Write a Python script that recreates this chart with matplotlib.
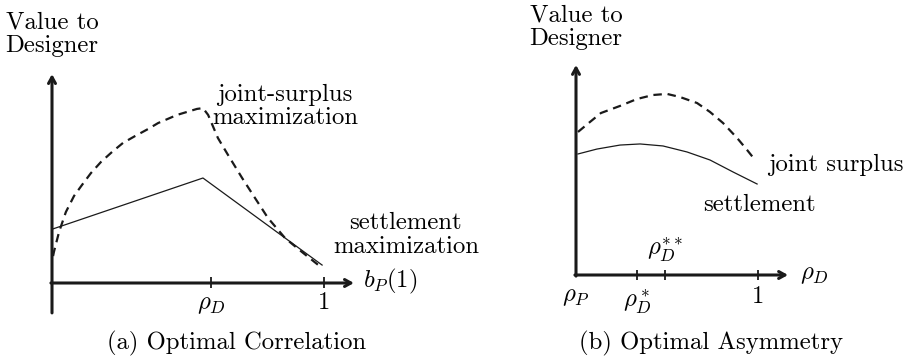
import matplotlib
matplotlib.use("Agg")
import matplotlib.pyplot as plt

plt.rcParams['font.family'] = ['cmr10', 'DejaVu Serif']
plt.rcParams['mathtext.fontset'] = 'cm'
plt.rcParams['axes.formatter.use_mathtext'] = True

# ---- Panel (a): Optimal Correlation ----
a_joint_x = [0.004, 0.007, 0.026, 0.051, 0.081, 0.110, 0.143, 0.180, 0.221, 0.261,
             0.305, 0.353, 0.390, 0.460, 0.533, 0.555, 0.574, 0.610, 0.647, 0.699,
             0.746, 0.794, 0.857, 0.919, 0.993]
a_joint_y = [0.099, 0.114, 0.188, 0.261, 0.320, 0.360, 0.404, 0.445, 0.482, 0.515,
             0.540, 0.566, 0.588, 0.618, 0.640, 0.643, 0.618, 0.533, 0.471, 0.386,
             0.313, 0.239, 0.165, 0.114, 0.055]
a_settle_x = [0.004, 0.555, 0.993]
a_settle_y = [0.199, 0.386, 0.066]
a_ticks = [0.585, 1.0]
a_tick_labels = [r'$\rho_D$', '1']

# ---- Panel (b): Optimal Asymmetry ----
b_joint_x = [0.011, 0.077, 0.137, 0.242, 0.335, 0.423, 0.500, 0.571, 0.665, 0.736,
             0.808, 0.885, 0.940, 0.984]
b_joint_y = [0.786, 0.841, 0.890, 0.929, 0.967, 0.989, 0.995, 0.978, 0.945, 0.896,
             0.835, 0.753, 0.687, 0.632]
b_settle_x = [0.011, 0.115, 0.242, 0.352, 0.478, 0.610, 0.736, 0.863, 0.995]
b_settle_y = [0.665, 0.692, 0.714, 0.720, 0.709, 0.676, 0.632, 0.566, 0.500]
b_ticks = [0.335, 0.489, 1.0]

FS = 17.8
AX_LW = 2.2
INK = '#1a1a1a'
DASH = (0, (3.8, 2.6))
fig = plt.figure(figsize=(9.06, 3.62), dpi=100)

# panel a: origin at px (52,283), 272 px/unit
ax1 = fig.add_axes([0, 0, 0.5, 1])
ax1.set_xlim(-52 / 272, (453 - 52) / 272)
ax1.set_ylim((283 - 362) / 272, 283 / 272)
ax1.axis('off')

# panel b: origin at px (576,275), 182 px/unit
ax2 = fig.add_axes([0.5, 0, 0.5, 1])
ax2.set_xlim((453 - 576) / 182, (906 - 576) / 182)
ax2.set_ylim((275 - 362) / 182, 275 / 182)
ax2.axis('off')

arrow = dict(arrowstyle='->,head_length=0.45,head_width=0.25', lw=AX_LW, color=INK,
             shrinkA=0, shrinkB=0)

# Panel a
ax1.annotate('', xy=(0, 0.768), xytext=(0, -0.110), arrowprops=arrow)
ax1.annotate('', xy=(1.110, 0), xytext=(-0.004, 0), arrowprops=arrow)
for t in a_ticks:
    ax1.plot([t, t], [-0.020, 0.022], color=INK, lw=1.3, solid_capstyle='butt')
ax1.plot(a_joint_x, a_joint_y, color=INK, lw=1.6, ls=DASH)
ax1.plot(a_settle_x, a_settle_y, color=INK, lw=0.9)

ax1.text(0, 0.915, 'Value to\nDesigner', ha='center', va='center', fontsize=FS,
         linespacing=1.1)
ax1.text(0.857, 0.649, 'joint-surplus\nmaximization', ha='center', va='center',
         fontsize=FS, linespacing=1.1)
ax1.text(1.301, 0.176, 'settlement\nmaximization', ha='center', va='center',
         fontsize=FS, linespacing=1.1)
ax1.text(1.143, 0.004, r'$b_P(1)$', ha='left', va='center', fontsize=FS)
ax1.text(a_ticks[0], -0.081, a_tick_labels[0], ha='center', va='center', fontsize=FS)
ax1.text(a_ticks[1], -0.074, a_tick_labels[1], ha='center', va='center', fontsize=FS)
ax1.text(0.680, -0.221, '(a) Optimal Correlation', ha='center', va='center', fontsize=FS)

# Panel b
ax2.annotate('', xy=(0, 1.154), xytext=(0, -0.006), arrowprops=arrow)
ax2.annotate('', xy=(1.165, 0), xytext=(-0.006, 0), arrowprops=arrow)
for t in b_ticks:
    ax2.plot([t, t], [-0.027, 0.030], color=INK, lw=1.3, solid_capstyle='butt')
ax2.plot(b_joint_x, b_joint_y, color=INK, lw=1.6, ls=DASH)
ax2.plot(b_settle_x, b_settle_y, color=INK, lw=0.9)

ax2.text(0, 1.360, 'Value to\nDesigner', ha='center', va='center', fontsize=FS,
         linespacing=1.1)
ax2.text(1.055, 0.604, 'joint surplus', ha='left', va='center', fontsize=FS)
ax2.text(0.698, 0.385, 'settlement', ha='left', va='center', fontsize=FS)
ax2.text(0, -0.121, r'$\rho_P$', ha='center', va='center', fontsize=FS)
ax2.text(b_ticks[0], -0.148, r'$\rho_D^*$', ha='center', va='center', fontsize=FS)
ax2.text(b_ticks[1], 0.137, r'$\rho_D^{**}$', ha='center', va='center', fontsize=FS)
ax2.text(b_ticks[2], -0.121, '1', ha='center', va='center', fontsize=FS)
ax2.text(1.231, 0.0, r'$\rho_D$', ha='left', va='center', fontsize=FS)
ax2.text(0.742, -0.374, '(b) Optimal Asymmetry', ha='center', va='center', fontsize=FS)

fig.savefig('out.png', dpi=100)
